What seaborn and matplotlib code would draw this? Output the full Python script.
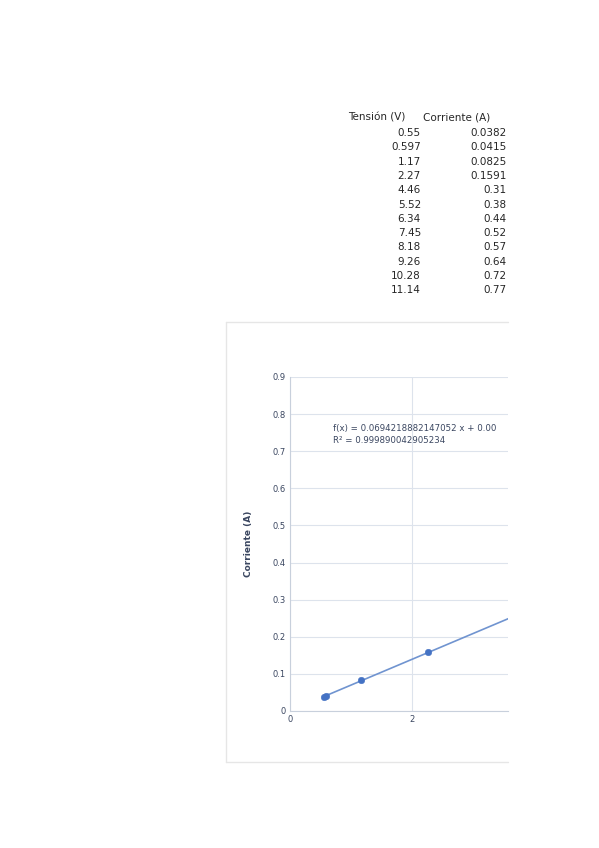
import numpy as np
import pandas as pd
import matplotlib
matplotlib.use("Agg")
import matplotlib.pyplot as plt
from matplotlib.lines import Line2D
import seaborn as sns

tension = [0.55, 0.597, 1.17, 2.27, 4.46, 5.52, 6.34, 7.45, 8.18, 9.26, 10.28, 11.14]
corriente = [0.0382, 0.0415, 0.0825, 0.1591, 0.31, 0.38, 0.44, 0.52, 0.57, 0.64, 0.72, 0.77]
tension_lbl = ["0.55", "0.597", "1.17", "2.27", "4.46", "5.52", "6.34", "7.45", "8.18", "9.26", "10.28", "11.14"]
corriente_lbl = ["0.0382", "0.0415", "0.0825", "0.1591", "0.31", "0.38", "0.44", "0.52", "0.57", "0.64", "0.72", "0.77"]

sns.set_style("white")
plt.rcParams['font.family'] = ['DejaVu Sans']
W, H = 599, 848
fig = plt.figure(figsize=(W/100, H/100), dpi=100)

def fx(px): return px / W
def fy(py): return 1 - py / H

# table
fig.text(fx(348), fy(118), "Tensión (V)", fontsize=7.5, va="center", ha="left")
fig.text(fx(423), fy(118), "Corriente (A)", fontsize=7.5, va="center", ha="left")
for i, (a, b) in enumerate(zip(tension_lbl, corriente_lbl)):
    y = 133 + i * 14.3
    fig.text(fx(421), fy(y), a, fontsize=7.5, va="center", ha="right")
    fig.text(fx(507), fy(y), b, fontsize=7.5, va="center", ha="right")

# chart frame
c = "#e6e6e6"
fig.add_artist(Line2D([fx(226), fx(226)], [fy(322), fy(762)], color=c, lw=1))
fig.add_artist(Line2D([fx(226), fx(508)], [fy(322), fy(322)], color=c, lw=1))
fig.add_artist(Line2D([fx(226), fx(508)], [fy(762), fy(762)], color=c, lw=1))

ax = fig.add_axes([fx(290), fy(711), (508-290)/W, (711-377)/H])
df = pd.DataFrame({"Tensión (V)": tension, "Corriente (A)": corriente})
slope, intercept = np.polyfit(tension, corriente, 1)
xs = np.array([min(tension), max(tension)])
fit = pd.DataFrame({"x": xs, "y": slope * xs + intercept})
sns.lineplot(data=fit, x="x", y="y", ax=ax, color="#7094d0", lw=1.2)
sns.scatterplot(data=df, x="Tensión (V)", y="Corriente (A)", ax=ax, color="#4472c4",
                s=22, edgecolor="#4472c4", zorder=3)
ax.set_xlim(0, (508-290)/61.0)
ax.set_ylim(0, 0.9)
ax.set_xticks([0, 2])
ax.set_yticks(np.arange(0, 0.91, 0.1))
ax.set_yticklabels(["0"] + [f"{v:.1f}" for v in np.arange(0.1, 0.91, 0.1)])
ax.grid(True, color="#dde3ec", lw=0.8)
ax.set_axisbelow(True)
for s in ["top", "right"]:
    ax.spines[s].set_visible(False)
for s in ["left", "bottom"]:
    ax.spines[s].set_color("#c8d0dc")
ax.tick_params(labelsize=6, colors="#3a4660", length=0, pad=3)
ax.set_xlabel("")
ax.set_ylabel("Corriente (A)", fontsize=6.5, fontweight="bold", color="#3a4660", labelpad=14)
ax.text(0.7, 0.755, "f(x) = 0.0694218882147052 x + 0.00", fontsize=6.2, color="#3a4660",
        clip_on=True)
ax.text(0.7, 0.722, "R² = 0.999890042905234", fontsize=6.2, color="#3a4660")
fig.savefig("out.png", dpi=100)
